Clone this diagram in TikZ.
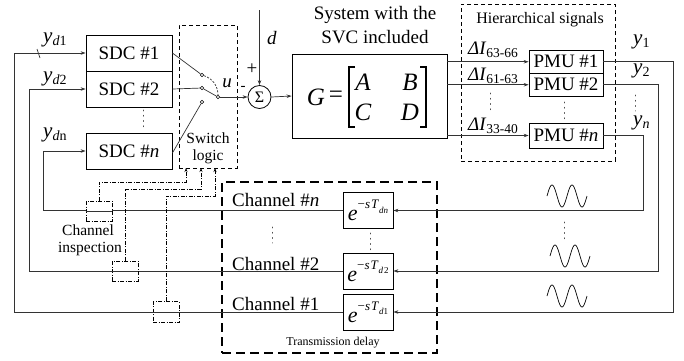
\documentclass[tikz,border=0pt]{standalone}
\usepackage{fontspec}
\setmainfont{Liberation Serif}
\usetikzlibrary{arrows.meta,calc}
\newcommand\szM{\fontsize{19}{22}\selectfont}
\newcommand\szS{\fontsize{15.5}{18}\selectfont}
\newcommand\szH{\fontsize{16}{19}\selectfont}
\newcommand\szT{\fontsize{12}{14}\selectfont}
\newcommand\szY{\fontsize{21}{24}\selectfont}
\newcommand\szG{\fontsize{25}{28}\selectfont}
\newcommand\szE{\fontsize{22}{24}\selectfont}
\newcommand\szsub{\fontsize{14}{14}\selectfont}
\newcommand\ysub[2]{\textit{#1}\raisebox{-0.3ex}{\szsub #2}}
\newcommand\dIsub[1]{\textit{ΔI}\raisebox{-0.35ex}{\fontsize{13.5}{14}\selectfont #1}}
\newcommand\edel[1]{\textit{e}\raisebox{0.55em}{\fontsize{13}{13}\selectfont −\textit{s\kern1pt T}\raisebox{-0.35em}{\fontsize{9}{9}\selectfont #1}}}
\begin{document}
\begin{tikzpicture}[x=1pt,y=-1pt,
  wire/.style={line width=0.7pt, draw=black!80},
  arr/.style={wire,-{Stealth[length=5pt,width=3.5pt]}},
  blk/.style={draw, line width=0.8pt, inner sep=0pt, font=\szM},
  dbox/.style={draw, line width=0.7pt, dash pattern=on 4pt off 3pt, inner sep=0pt},
  dd/.style={line width=0.6pt, dash pattern=on 4pt off 1.5pt on 1pt off 1.5pt},
  cont/.style={circle, draw, fill=white, inner sep=0pt, minimum size=3.5pt, line width=0.6pt},
  dots/.style={line width=0.9pt, dash pattern=on 0.8pt off 4.5pt, line cap=round, draw=black!70},
  lab/.style={inner sep=0pt, font=\szM},
]
\useasboundingbox (0,0) rectangle (684,360);

% SDC boxes
\node[blk, minimum width=86pt, minimum height=36pt] (sdc1) at (129,53) {SDC \#1};
\node[blk, minimum width=86pt, minimum height=36pt] (sdc2) at (129,89) {SDC \#2};
\node[blk, minimum width=86pt, minimum height=36pt] (sdcn) at (129,151) {SDC \#\textit{n}};
\draw[dots] (143,110) -- (143,128);

% y_d labels
\node[lab, font=\szY, anchor=west] (yd1) at (43,40) {\ysub{y}{\textit{d}1}};
\node[lab, font=\szY, anchor=west] (yd2) at (43,79) {\ysub{y}{\textit{d}2}};
\node[lab, font=\szY, anchor=west] (ydn) at (43,135) {\ysub{y}{\textit{d}n}};

% switch logic
\node[dbox, minimum width=58pt, minimum height=143pt] (sl) at (208,96.5) {};
\node[lab, font=\szS] (slt1) at (208,138) {Switch};
\node[lab, font=\szS] (slt2) at (208,157) {logic};
\node[cont] (c1) at (202,75) {};
\node[cont] (c2) at (202,88) {};
\node[cont] (c3) at (202,102) {};
\node[cont] (pv) at (218,97) {};
\draw[wire] (sdc1.east) -- (c1);
\draw[wire] (sdc2.east) -- (c2);
\draw[wire] ([yshift=-2pt]sdcn.east) -- (c3);
\draw[wire] (pv) -- (c2);
\draw[wire, dash pattern=on 2pt off 1.5pt] (c1) to[bend left=35] (pv);
\node[lab] (ulab) at (227,83) {\textit{u}};

% sum
\node[circle, draw, line width=0.8pt, minimum size=23pt, inner sep=0pt, font=\fontsize{16}{18}\selectfont] (sum) at (259.5,97) {Σ};
\coordinate (dtop) at (259.5,10);
\draw[arr] (dtop) -- (sum.north);
\node[lab] (dlab) at (272,38) {\textit{d}};
\node[lab] (plus) at (252,69) {+};
\node[lab, font=\fontsize{15}{16}\selectfont] (minus) at (243,88) {-};
\draw[arr] (pv) -- (sum.west);

% system G
\node[lab] (sys1) at (375,15) {System with the};
\node[lab] (sys2) at (375,37) {SVC included};
\node[blk, minimum width=155pt, minimum height=84pt] (G) at (369.5,96) {};
\draw[arr] (sum.east) -- (G.west);
\node[lab, font=\szG] (gG) at (316,97) {\textit{G}};
\node[lab, font=\szG] (geq) at (336,97) {=};
\node[lab, font=\szG] (gA) at (363,82) {\textit{A}};
\node[lab, font=\szG] (gB) at (410,82) {\textit{B}};
\node[lab, font=\szG] (gC) at (363,112) {\textit{C}};
\node[lab, font=\szG] (gD) at (410,112) {\textit{D}};
\draw[line width=1.3pt] (355,67) -- (349,67) -- (349,127) -- (355,127);
\draw[line width=1.3pt] (420,67) -- (426,67) -- (426,127) -- (420,127);

% hierarchical signals
\node[dbox, minimum width=154pt, minimum height=157pt] (hb) at (538,82.5) {};
\node[lab, font=\szH] (hbt) at (540,20) {Hierarchical signals};
\node[blk, minimum width=74pt, minimum height=23pt] (pmu1) at (566,61.75) {PMU \#1};
\node[blk, minimum width=74pt, minimum height=23pt] (pmu2) at (566,84.75) {PMU \#2};
\node[blk, minimum width=74pt, minimum height=25pt] (pmun) at (566,135.5) {PMU \#\textit{n}};
\draw[arr] (G.east |- pmu1.west) -- (pmu1.west);
\draw[arr] (G.east |- pmu2.west) -- (pmu2.west);
\draw[arr] (G.east |- pmun.west) -- (pmun.west);
\node[lab, anchor=west] (dI1) at (468,50) {\dIsub{63-66}};
\node[lab, anchor=west] (dI2) at (468,76) {\dIsub{61-63}};
\node[lab, anchor=west] (dIn) at (468,126) {\dIsub{33-40}};
\draw[dots] (490,93) -- (490,113);
\draw[dots] (564,102) -- (564,119);

% outputs y
\node[lab, font=\szY, anchor=west] (y1) at (633,42) {\ysub{y}{1}};
\node[lab, font=\szY, anchor=west] (y2) at (633,71) {\ysub{y}{2}};
\node[lab, font=\szY, anchor=west] (yn) at (633,123) {\ysub{y}{\textit{n}}};
\draw[dots] (635,95) -- (635,111);

% transmission delay
\node[draw, line width=1.4pt, dash pattern=on 9pt off 5pt, minimum width=215pt, minimum height=171pt, inner sep=0pt] (tb) at (329.5,267.5) {};
\node[lab, font=\szT] (tbt) at (333,343) {Transmission delay};
\node[blk, minimum width=50pt, minimum height=36pt, font=\szE] (dn) at (368,210.5) {\edel{\textit{dn}}};
\node[blk, minimum width=50pt, minimum height=36pt, font=\szE] (d2) at (368,271) {\edel{\textit{d}\kern1pt 2}};
\node[blk, minimum width=50pt, minimum height=36pt, font=\szE] (d1) at (368,312) {\edel{\textit{d}1}};
\draw[dots] (370,233) -- (370,251);
\node[lab, anchor=west] (chn) at (232,200) {Channel \#\textit{n}};
\node[lab, anchor=west] (ch2) at (232,264) {Channel \#2};
\node[lab, anchor=west] (ch1) at (232,304) {Channel \#1};
\draw[dots] (272,227) -- (272,243);

% right-hand feedback wires
\coordinate (v1) at (673,0);
\coordinate (v2) at (658,0);
\coordinate (vn) at (643,0);
\draw[arr] (pmu1.east) -| (v1 |- d1.east) -- (d1.east);
\draw[arr] (pmu2.east) -| (v2 |- d2.east) -- (d2.east);
\draw[arr] (pmun.east) -| (vn |- dn.east) -- (dn.east);

% left-hand feedback wires
\coordinate (l1) at (14,0);
\coordinate (l2) at (29,0);
\coordinate (ln) at (43,0);
\draw[arr] (d1.west) -| (l1 |- sdc1.west) -- (sdc1.west);
\draw[arr] (d2.west) -| (l2 |- sdc2.west) -- (sdc2.west);
\draw[arr] (dn.west) -| (ln |- sdcn.west) -- (sdcn.west);
\draw[wire] (37,49) -- (40,58);

% sine waves
\draw[line width=0.7pt] plot[domain=0:40, samples=80, smooth] ({547+\x},{196-11*sin(18*\x)});
\draw[line width=0.7pt] plot[domain=0:40, samples=80, smooth] ({550+\x},{256-11*sin(18*\x)});
\draw[line width=0.7pt] plot[domain=0:40, samples=80, smooth] ({547+\x},{296-11*sin(18*\x)});
\draw[dots] (564,222) -- (564,239);

% channel inspection
\node[draw, dd, minimum width=26pt, minimum height=20pt, inner sep=0pt, fill=white] (ci1) at (99,211) {};
\node[draw, dd, minimum width=26pt, minimum height=20pt, inner sep=0pt, fill=white] (ci2) at (125,271) {};
\node[draw, dd, minimum width=26pt, minimum height=21pt, inner sep=0pt, fill=white] (ci3) at (166,312) {};
\draw[wire] (ci1.west) -- (ci1.east);
\draw[wire] (ci2.west) -- (ci2.east);
\draw[wire] (ci3.west) -- (ci3.east);
\coordinate (s1) at (186,168);
\coordinate (s2) at (201,168);
\coordinate (s3) at (215,168);
\coordinate (k1) at (186,182);
\coordinate (k2) at (201,189);
\coordinate (k3) at (215,196);
\draw[dd, -{Stealth[length=4pt,width=3pt]}] (ci1.north) |- (k1) -- (s1);
\draw[dd, -{Stealth[length=4pt,width=3pt]}] (ci2.north) |- (k2) -- (s2);
\draw[dd, -{Stealth[length=4pt,width=3pt]}] (ci3.north) |- (k3) -- (s3);
\node[lab, font=\szS] (cit1) at (88,230) {Channel};
\node[lab, font=\szS] (cit2) at (90,249) {inspection};
\end{tikzpicture}
\end{document}
